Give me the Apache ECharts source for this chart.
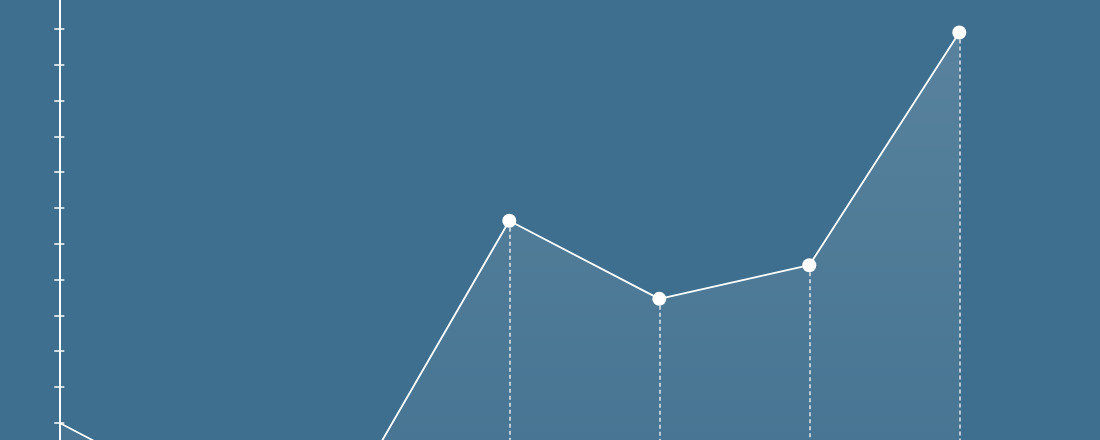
<!DOCTYPE html>
<html>
<head>
<meta charset="utf-8">
<script src="https://cdn.jsdelivr.net/npm/echarts@6/dist/echarts.min.js"></script>
<style>
  html, body { margin: 0; padding: 0; background: #3f6f8e; overflow: hidden; width: 1100px; height: 440px; }
  /* the chart is cropped top and bottom: the canvas is taller than the window */
  #chart { position: absolute; left: 0; top: -7px; width: 1100px; height: 580px; }
</style>
</head>
<body>
<div id="chart"></div>
<script>
// Values (one tick = 10 units, tick at the first point = 0).
const categories = ['1', '2', '3', '4', '5', '6', '7']
const values = [0, -22, -16, 56.4, 34.6, 44, 109]

const Y_MIN = -40
const Y_MAX = 120
const Y_STEP = 10

// dashed drop lines from each marker down to the bottom of the axis
const dropLines = values.map(function (v, i) {
  return [{ coord: [i, v] }, { coord: [i, Y_MIN] }]
}).slice(1)

const chart = echarts.init(document.getElementById('chart'))

const tickAxis = {
  type: 'value',
  min: Y_MIN,
  max: Y_MAX,
  interval: Y_STEP,
  position: 'left',
  axisLabel: { show: false },
  splitLine: { show: false },
}

chart.setOption({
  backgroundColor: '#3f6f8e',
  animation: false,
  grid: { left: 59.3, right: 140.7, top: 0.2, bottom: 7.16, containLabel: false },
  xAxis: {
    type: 'category',
    data: categories,
    boundaryGap: false,
    show: false,
  },
  yAxis: [
    Object.assign({}, tickAxis, {
      axisLine: { show: true, lineStyle: { color: '#ffffff', width: 2 } },
      axisTick: { show: true, inside: false, length: 5, lineStyle: { color: '#ffffff', width: 1.5 } },
    }),
    // second copy only to draw the inner half of each tick
    Object.assign({}, tickAxis, {
      axisLine: { show: false },
      axisTick: { show: true, inside: true, length: 5, lineStyle: { color: '#ffffff', width: 1.5 } },
    }),
  ],
  series: [{
    type: 'line',
    data: values,
    symbol: 'circle',
    symbolSize: function (v, p) { return p.dataIndex === 0 ? 0 : 14 },
    itemStyle: { color: '#ffffff' },
    lineStyle: { color: '#ffffff', width: 1.8 },
    areaStyle: {
      origin: 'start',
      color: new echarts.graphic.LinearGradient(0, 0, 0, 1, [
        { offset: 0, color: 'rgba(255,255,255,0.19)' },
        { offset: 1, color: 'rgba(255,255,255,0.025)' },
      ]),
    },
    markLine: {
      silent: true,
      symbol: 'none',
      label: { show: false },
      lineStyle: { color: 'rgba(255,255,255,0.85)', width: 1.5, type: [4, 3] },
      data: dropLines,
    },
    z: 3,
  }],
})
</script>
</body>
</html>
